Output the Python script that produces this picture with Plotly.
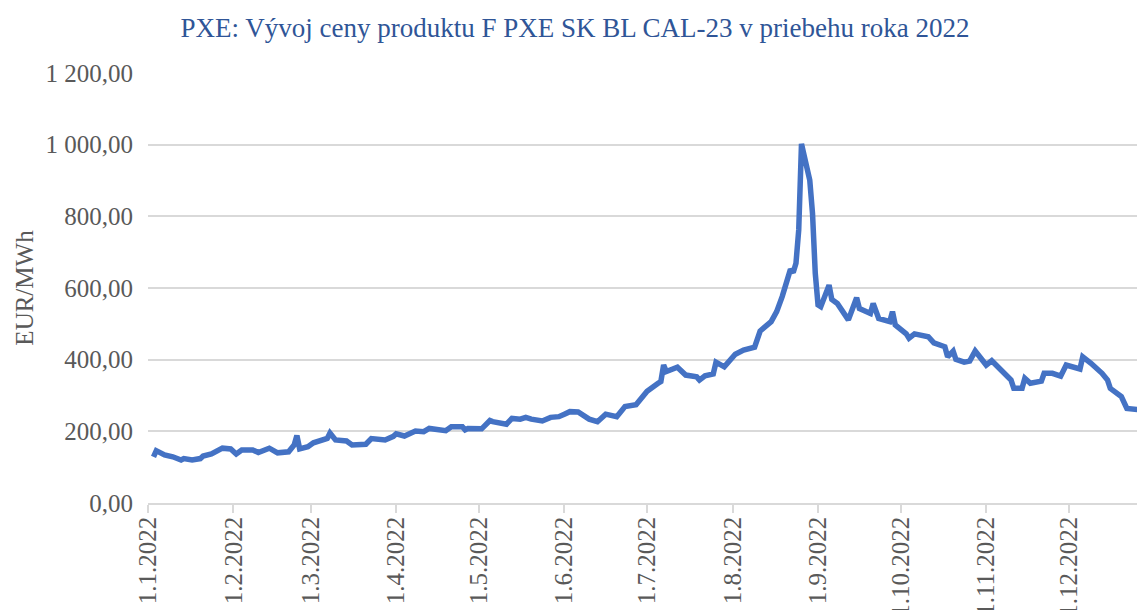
import plotly.graph_objects as go

dates = [
    "2022-01-03", "2022-01-04", "2022-01-07", "2022-01-10", "2022-01-13", "2022-01-14",
    "2022-01-17", "2022-01-20", "2022-01-21", "2022-01-24", "2022-01-28", "2022-01-31",
    "2022-02-02", "2022-02-04", "2022-02-08", "2022-02-10", "2022-02-14", "2022-02-17",
    "2022-02-21", "2022-02-23", "2022-02-24", "2022-02-25", "2022-02-28", "2022-03-02",
    "2022-03-07", "2022-03-08", "2022-03-10", "2022-03-14", "2022-03-16", "2022-03-21",
    "2022-03-23", "2022-03-28", "2022-03-31", "2022-04-01", "2022-04-04", "2022-04-08",
    "2022-04-11", "2022-04-13", "2022-04-19", "2022-04-21", "2022-04-25", "2022-04-26",
    "2022-04-27", "2022-05-02", "2022-05-05", "2022-05-06", "2022-05-11", "2022-05-13",
    "2022-05-16", "2022-05-18", "2022-05-20", "2022-05-24", "2022-05-27", "2022-05-30",
    "2022-06-01", "2022-06-03", "2022-06-06", "2022-06-10", "2022-06-13", "2022-06-16",
    "2022-06-20", "2022-06-23", "2022-06-27", "2022-06-30", "2022-07-01", "2022-07-05",
    "2022-07-06", "2022-07-07", "2022-07-08", "2022-07-12", "2022-07-15", "2022-07-19",
    "2022-07-20", "2022-07-22", "2022-07-25", "2022-07-26", "2022-07-29", "2022-08-02",
    "2022-08-05", "2022-08-09", "2022-08-11", "2022-08-15", "2022-08-17", "2022-08-19",
    "2022-08-22", "2022-08-23", "2022-08-24", "2022-08-25", "2022-08-26", "2022-08-29",
    "2022-08-30", "2022-08-31", "2022-09-01", "2022-09-02", "2022-09-05", "2022-09-06",
    "2022-09-08", "2022-09-12", "2022-09-15", "2022-09-16", "2022-09-20", "2022-09-21",
    "2022-09-23", "2022-09-27", "2022-09-28", "2022-09-29", "2022-10-03", "2022-10-04",
    "2022-10-06", "2022-10-11", "2022-10-13", "2022-10-17", "2022-10-18", "2022-10-20",
    "2022-10-21", "2022-10-24", "2022-10-26", "2022-10-28", "2022-11-01", "2022-11-03",
    "2022-11-08", "2022-11-10", "2022-11-11", "2022-11-14", "2022-11-15", "2022-11-17",
    "2022-11-21", "2022-11-22", "2022-11-25", "2022-11-28", "2022-11-30", "2022-12-02",
    "2022-12-05", "2022-12-06", "2022-12-08", "2022-12-09", "2022-12-13", "2022-12-15",
    "2022-12-16", "2022-12-20", "2022-12-22", "2022-12-27", "2022-12-28", "2022-12-29",
]

prices = [
    129, 146, 134, 129, 120, 124,
    120, 124, 131, 137, 153, 151,
    137, 148, 148, 141, 153, 140,
    143, 162, 188, 151, 157, 168,
    180, 195, 176, 173, 162, 164,
    180, 176, 186, 193, 187, 201,
    199, 208, 202, 213, 213, 204,
    208, 207, 230, 227, 220, 236,
    234, 239, 234, 229, 239, 241,
    248, 255, 254, 234, 227, 248,
    241, 269, 274, 305, 312, 334,
    339, 385, 367, 379, 357, 352,
    343, 355, 360, 393, 380, 415,
    427, 435, 480, 506, 534, 576,
    652, 643, 669, 762, 1002, 901,
    808, 641, 553, 548, 608, 568,
    557, 511, 573, 543, 529, 557,
    515, 506, 534, 497, 472, 460,
    472, 464, 447, 436, 408, 424,
    401, 393, 396, 424, 385, 397,
    362, 343, 320, 320, 348, 334,
    340, 362, 362, 354, 385, 379,
    374, 408, 393, 390, 362, 343,
    320, 297, 264, 260, 255, 255,
]

tick_dates = [
    "2022-01-01", "2022-02-01", "2022-03-01", "2022-04-01", "2022-05-01", "2022-06-01",
    "2022-07-01", "2022-08-01", "2022-09-01", "2022-10-01", "2022-11-01", "2022-12-01",
]
tick_labels = [
    "1.1.2022", "1.2.2022", "1.3.2022", "1.4.2022", "1.5.2022", "1.6.2022",
    "1.7.2022", "1.8.2022", "1.9.2022", "1.10.2022", "1.11.2022", "1.12.2022",
]

y_ticks = [0, 200, 400, 600, 800, 1000, 1200]

title_text = "PXE: Vývoj ceny produktu F PXE SK BL CAL-23 v priebehu roka 2022"
y_title = "EUR/MWh"

font_family = "Liberation Serif, Times New Roman, serif"
grey = "#595959"
grid = "#D9D9D9"

W, H = 1145, 610

fig = go.Figure()
fig.add_trace(go.Scatter(
    x=dates, y=prices, mode="lines",
    line=dict(color="#4472C4", width=5.5),
    showlegend=False, hoverinfo="x+y",
))

fig.update_layout(
    width=W, height=H,
    margin=dict(l=140, r=8, t=65, b=115),
    paper_bgcolor="white", plot_bgcolor="white",
    separators=", ",
    font=dict(family=font_family, color=grey, size=25),
    title=dict(
        text=title_text, x=567 / W, xanchor="center",
        y=1 - 20 / H, yref="container", yanchor="middle",
        font=dict(family=font_family, size=27, color="#2F5597"),
    ),
)

fig.update_xaxes(
    type="date", automargin=False,
    range=["2022-01-01", "2022-12-28 14:00"],
    tickmode="array", tickvals=tick_dates, ticktext=tick_labels,
    tickangle=-90,
    tickfont=dict(family=font_family, size=25, color=grey),
    ticks="outside", ticklen=8, tickcolor=grid, tickwidth=1.5,
    ticklabelstandoff=-6,
    showgrid=False, showline=True, linecolor=grid, linewidth=1.5,
    zeroline=False,
)

fig.update_yaxes(
    automargin=False,
    range=[0, 1200],
    tickmode="array", tickvals=y_ticks,
    tickformat=",.2f",
    tickfont=dict(family=font_family, size=25, color=grey),
    showgrid=True, gridcolor=grid, gridwidth=1.5,
    zeroline=False, showline=False, ticks="",
    ticklabelstandoff=14,
    title=dict(text=y_title, font=dict(family=font_family, size=25, color=grey), standoff=4),
)

fig.write_html("out.html")
